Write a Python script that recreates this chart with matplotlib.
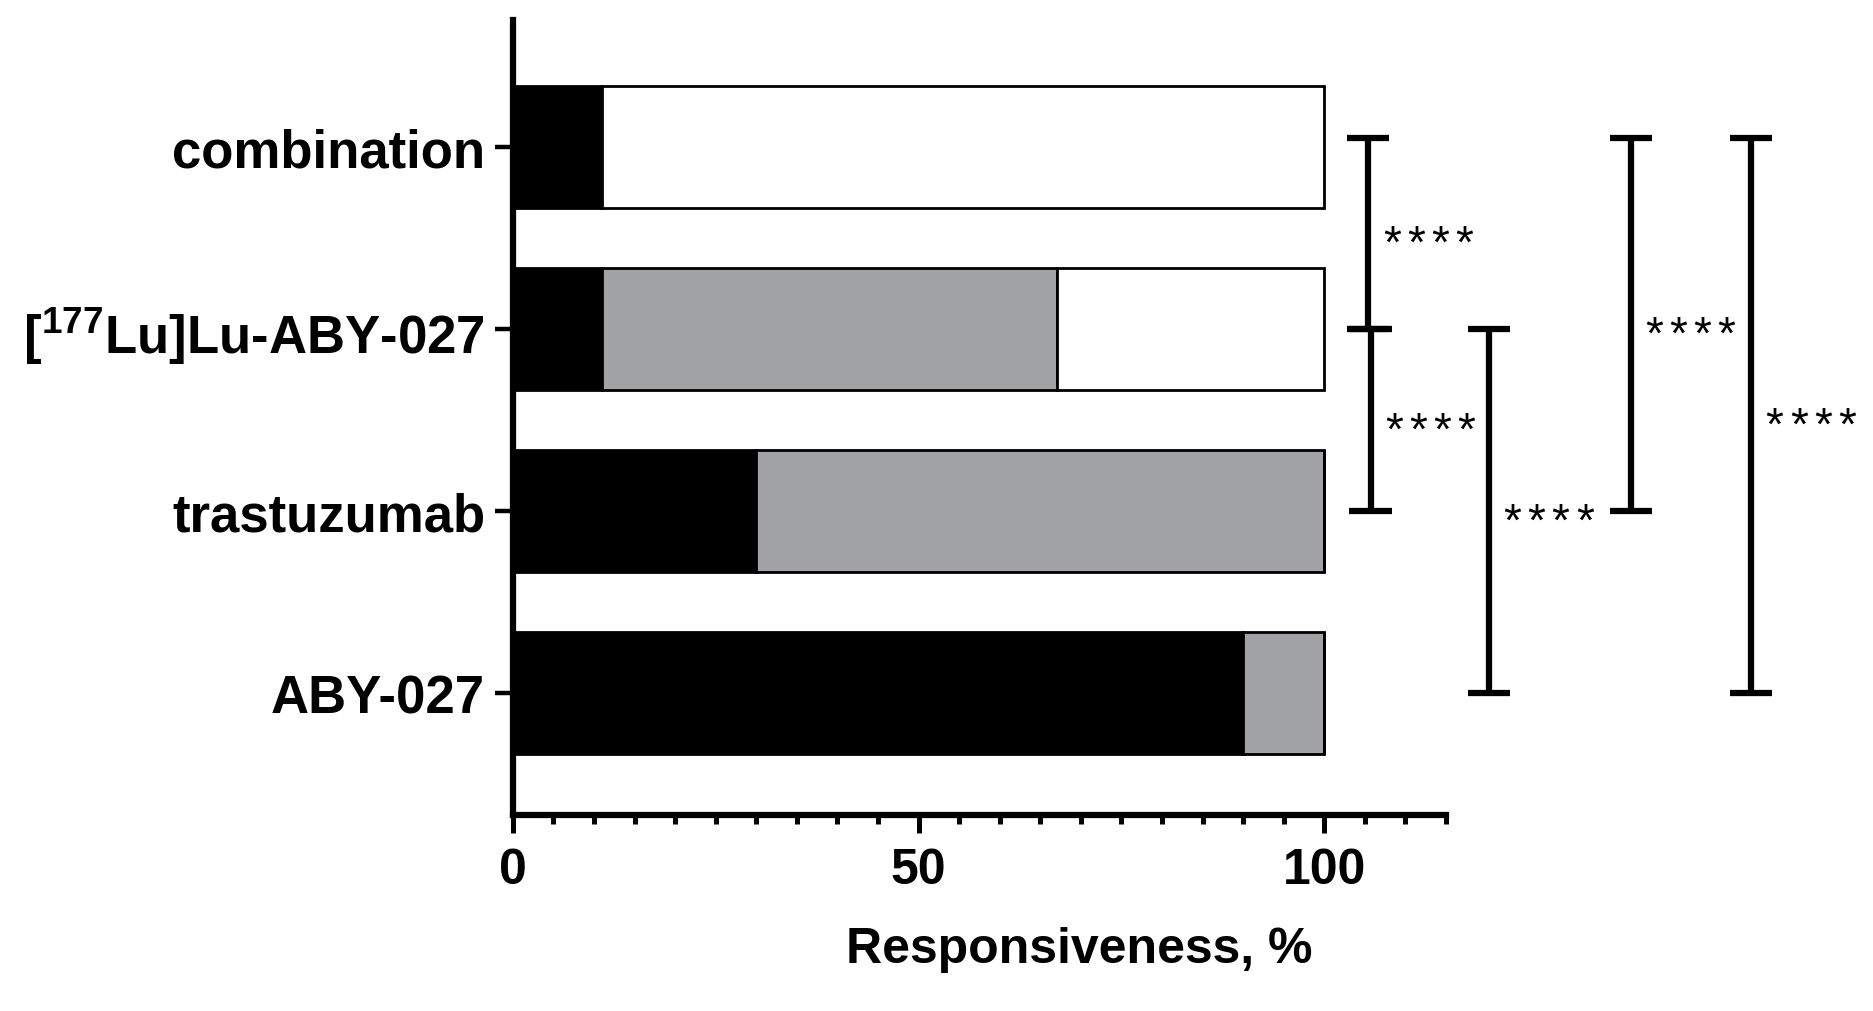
import matplotlib
matplotlib.use("Agg")
import matplotlib.pyplot as plt
import numpy as np
from matplotlib.ticker import MultipleLocator

plt.rcParams["font.family"] = ["Liberation Sans", "DejaVu Sans"]
plt.rcParams["mathtext.fontset"] = "custom"
plt.rcParams["mathtext.rm"] = "Liberation Sans"
plt.rcParams["mathtext.default"] = "regular"

# groups, bottom to top
groups = ["ABY-027", "trastuzumab", "[$^{177}$Lu]Lu-ABY-027", "combination"]
black_part = [90, 30, 11, 11]
gray_part = [10, 70, 56, 0]
white_part = [0, 0, 33, 89]

# significance comparisons (group index a, group index b, label)
comparisons = [
    (3, 2, "****"),
    (2, 1, "****"),
    (2, 0, "****"),
    (3, 1, "****"),
    (3, 0, "****"),
]
bracket_x = [105.4, 105.7, 120.3, 137.8, 152.6]

GRAY = "#a1a2a6"

fig = plt.figure(figsize=(18.74, 10.12), dpi=100)
ax = fig.add_axes([0.2737, 0.1937, 0.4979, 0.7851])

y = np.arange(len(groups))
h = 0.67
b1 = np.array(black_part)
b2 = b1 + np.array(gray_part)
ax.barh(y, black_part, height=h, color="black", edgecolor="black", linewidth=2)
ax.barh(y, gray_part, left=b1, height=h, color=GRAY, edgecolor="black", linewidth=2)
ax.barh(y, white_part, left=b2, height=h, color="white", edgecolor="black", linewidth=2)

ax.set_xlim(0, 115)
ax.set_ylim(-0.673, 3.697)

for s in ["top", "right"]:
    ax.spines[s].set_visible(False)
for s in ["left", "bottom"]:
    ax.spines[s].set_linewidth(4.5)

ax.set_yticks(y)
ax.set_yticklabels(groups, fontsize=38, fontweight="bold")
ax.tick_params(axis="y", length=13, width=3.2, pad=7)

ax.set_xticks([0, 50, 100])
ax.set_xticklabels(["0", "50", "100"], fontsize=36, fontweight="bold")
ax.xaxis.set_minor_locator(MultipleLocator(5))
ax.tick_params(axis="x", which="major", length=13, width=3.6, pad=10)
ax.tick_params(axis="x", which="minor", length=6.5, width=3.6)

ax.set_xlabel("Responsiveness, %", fontsize=36, fontweight="bold")
ax.xaxis.set_label_coords(0.607, -0.14)


def end_y(i):
    # top group caps sit slightly above the bar centre
    return i + 0.05 if i == len(groups) - 1 else i


cap = 2.6
for (a, b, lab), bx in zip(comparisons, bracket_x):
    ya, yb = end_y(a), end_y(b)
    kw = dict(color="black", lw=4.5, clip_on=False, solid_capstyle="butt")
    ax.plot([bx, bx], [ya, yb], **kw)
    ax.plot([bx - cap, bx + cap], [ya, ya], **kw)
    ax.plot([bx - cap, bx + cap], [yb, yb], **kw)
    for k, ch in enumerate(lab):
        ax.annotate(ch, xy=(bx, (ya + yb) / 2),
                    xytext=(17 + k * 17.3, -17), textcoords="offset points",
                    ha="center", va="baseline", fontsize=33,
                    annotation_clip=False)

fig.savefig("out.png", dpi=100)
